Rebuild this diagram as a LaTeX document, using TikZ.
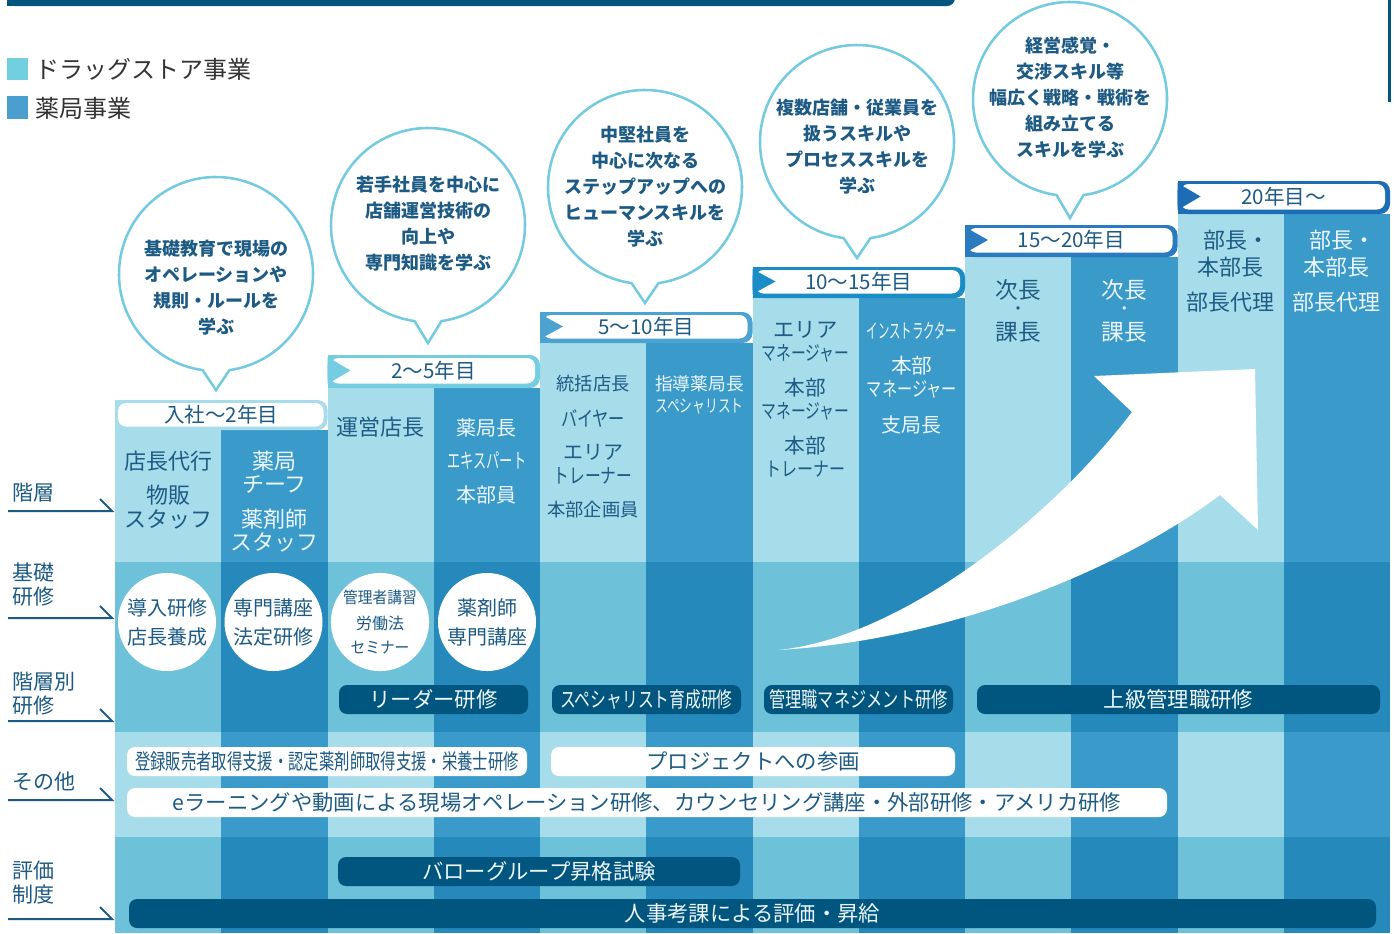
\documentclass[tikz,border=0pt]{standalone}
\usepackage{graphicx}
\usepackage{fontspec}
\newfontfamily\jp{Noto Sans CJK JP}
\definecolor{lTop}{HTML}{A7DCEA}
\definecolor{dTop}{HTML}{3A9BCB}
\definecolor{lMid}{HTML}{6DC2D9}
\definecolor{dMid}{HTML}{2589BB}
\definecolor{barBlue}{HTML}{00567F}
\definecolor{tBlue}{HTML}{1D5B85}
\definecolor{tWhite}{HTML}{EEF7FB}
\definecolor{bubLine}{HTML}{74CBE0}
\definecolor{hdrA}{HTML}{A7DCEA}
\definecolor{hdrB}{HTML}{74CDE0}
\definecolor{hdrC}{HTML}{4CA2D1}
\definecolor{hdrD}{HTML}{1A8CC6}
\definecolor{hdrE}{HTML}{2A7BBF}
\definecolor{hdrF}{HTML}{1C6DB5}
\definecolor{legL}{HTML}{72CFE0}
\definecolor{legD}{HTML}{4A9FCF}
\definecolor{legT}{HTML}{333333}
\newcommand\cnd[2]{\scalebox{#1}[1]{#2}}
\newcommand\hdrbox[6]{%
  \fill[#4, rounded corners=7.5pt] (#1,#2) rectangle (#1+212.5,#3);
  \fill[#4] (#1,#2) rectangle (#1+30,#3);
  \fill[white, rounded corners=6pt] (#1+3,#2+3) rectangle (#1+207.5,#3-4.5);
  \fill[#4] (#1,#2+2) -- (#1+23,{(#2+#3)/2-1}) -- (#1,#3-4) -- cycle;
  \node[hdrt] (#6) at (#1+106.25,{(#2+#3)/2-1}) {#5};
}
\newcommand\bubble[4]{%
  \draw[bubLine, line width=1.9pt, fill=white] (#1,#2) ++(98:97) arc[start angle=98, end angle=442, radius=97] -- (#1,#3) -- cycle;
}
\newcommand\labline[1]{\draw[tBlue, line width=1.5pt] (8,#1) -- (112,#1) -- (100,#1-12);}
\begin{document}
\begin{tikzpicture}[x=0.75pt,y=-0.75pt,
  colt/.style={inner sep=0pt, text=tBlue, font=\jp\fontsize{16.5}{19}\selectfont},
  cold/.style={colt, text=tWhite},
  bub/.style={inner sep=0pt, align=center, text=tBlue, font=\jp\bfseries\fontsize{13.5}{19.5}\selectfont},
  hdrt/.style={inner sep=0pt, text=tBlue, font=\jp\fontsize{15.4}{18}\selectfont},
  lab/.style={inner sep=0pt, anchor=west, align=left, text=tBlue, font=\jp\fontsize{15.75}{18}\selectfont},
  legt/.style={inner sep=0pt, anchor=west, text=legT, font=\jp\fontsize{18}{20}\selectfont},
  dbar/.style={fill=barBlue, rounded corners=6pt, minimum height=21.75pt, inner sep=0pt, text=tWhite, font=\jp\fontsize{16}{18}\selectfont},
  wbar/.style={fill=white, rounded corners=6pt, minimum height=21.75pt, inner sep=0pt, text=tBlue, font=\jp\fontsize{16}{18}\selectfont},
  wcirc/.style={circle, fill=white, minimum size=73.5pt, inner sep=0pt, align=center, text=tBlue, font=\jp\fontsize{15}{21.75}\selectfont}]
\useasboundingbox (0,0) rectangle (1394,933);
\clip (0,0) rectangle (1394,933);
\fill[white] (0,0) rectangle (1394,933);
% banner
\fill[barBlue, rounded corners=6pt] (7,-12) rectangle (955,6);
\fill[barBlue] (7,-12) rectangle (40,6);
\fill[barBlue] (1388,0) rectangle (1390.5,102);
% legend
\fill[legL] (7,58) rectangle (28,80);
\node[legt] (lg1) at (35,69) {ドラッグストア事業};
\fill[legD] (7,96) rectangle (28,119);
\node[legt] (lg2) at (35,108) {薬局事業};
% columns
\foreach \s/\tp in {0/430,1/388,2/343,3/298,4/257,5/214} {
  \pgfmathsetmacro\xa{115+212.5*\s}
  \pgfmathsetmacro\xm{\xa+106.25}
  \pgfmathsetmacro\xb{\xa+212.5}
  \fill[lTop] (\xa,\tp) rectangle (\xm+0.3,562);
  \fill[dTop] (\xm,\tp) rectangle (\xb+0.3,562);
  \fill[lMid] (\xa,562) rectangle (\xm+0.3,732);
  \fill[dMid] (\xm,562) rectangle (\xb+0.3,732);
  \fill[lTop] (\xa,732) rectangle (\xm+0.3,837);
  \fill[dTop] (\xm,732) rectangle (\xb+0.3,837);
  \fill[lMid] (\xa,837) rectangle (\xm+0.3,933);
  \fill[dMid] (\xm,837) rectangle (\xb+0.3,933);
}
% headers
\fill[hdrA, rounded corners=7.5pt] (115,400) rectangle (327.5,430);
\fill[hdrA] (115,400) rectangle (145,430);
\fill[white, rounded corners=6pt] (118,403) rectangle (323.5,426.5);
\node[hdrt] (h1) at (221.25,414.5) {入社～2年目};
\hdrbox{327.5}{355}{388}{hdrB}{2～5年目}{h2}
\hdrbox{540}{312}{343}{hdrC}{5～10年目}{h3}
\hdrbox{752.5}{267}{298}{hdrD}{10～15年目}{h4}
\hdrbox{965}{225}{257}{hdrE}{15～20年目}{h5}
\hdrbox{1177.5}{181}{214}{hdrF}{20年目～}{h6}
% bubbles
\bubble{216}{274}{390}{}
\node[bub] (b1) at (216,288) {基礎教育で現場の\\オペレーションや\\規則・ルールを\\学ぶ};
\bubble{428}{225}{343}{}
\node[bub] (b2) at (428,224) {若手社員を中心に\\店舗運営技術の\\向上や\\専門知識を学ぶ};
\bubble{645}{187}{303}{}
\node[bub] (b3) at (645,187) {中堅社員を\\中心に次なる\\ステップアップへの\\ヒューマンスキルを\\学ぶ};
\bubble{857}{142}{258}{}
\node[bub] (b4) at (857,147) {複数店舗・従業員を\\扱うスキルや\\プロセススキルを\\学ぶ};
\bubble{1070}{99}{218}{}
\node[bub] (b5) at (1070,98) {経営感覚・\\交渉スキル等\\幅広く戦略・戦術を\\組み立てる\\スキルを学ぶ};
% big arrow
\fill[white] (778,650) .. controls (900,638) and (1050,520) .. (1132,412) -- (1094,376) -- (1255,369) -- (1258,530) -- (1220,495) .. controls (1120,570) and (950,640) .. (778,650) -- cycle;
% column texts stage 1
\node[colt] (t01) at (168.1,461) {店長代行};
\node[colt] (t02) at (168.1,495) {物販};
\node[colt] (t03) at (168.1,519) {スタッフ};
\node[cold] (t11) at (274.4,461) {薬局};
\node[cold] (t12) at (274.4,484) {チーフ};
\node[cold] (t13) at (274.4,519) {薬剤師};
\node[cold] (t14) at (274.4,542) {スタッフ};
% stage 2
\node[colt] (t21) at (380.6,427) {運営店長};
\node[cold, font=\jp\fontsize{15}{18}\selectfont] (t31) at (486.9,428) {薬局長};
\node[cold, font=\jp\fontsize{15.5}{18}\selectfont] (t32) at (486.9,461) {\cnd{0.64}{エキスパート}};
\node[cold, font=\jp\fontsize{15}{18}\selectfont] (t33) at (486.9,495) {本部員};
% stage 3
\node[colt, font=\jp\fontsize{13.7}{16}\selectfont] (t41) at (593.1,384) {統括店長};
\node[colt, font=\jp\fontsize{15.5}{16}\selectfont] (t42) at (593.1,418) {\cnd{0.78}{バイヤー}};
\node[colt, font=\jp\fontsize{15}{16}\selectfont] (t43) at (593.1,452) {エリア};
\node[colt, font=\jp\fontsize{15.5}{16}\selectfont] (t44) at (593.1,476) {\cnd{0.76}{トレーナー}};
\node[colt, font=\jp\fontsize{13.7}{16}\selectfont] (t45) at (593.1,510) {本部企画員};
\node[cold, font=\jp\fontsize{13.3}{16}\selectfont] (t51) at (699.4,384) {指導薬局長};
\node[cold, font=\jp\fontsize{13.3}{16}\selectfont] (t52) at (699.4,406) {\cnd{0.72}{スペシャリスト}};
% stage 4
\node[colt, font=\jp\fontsize{16}{16}\selectfont] (t61) at (805.6,330) {エリア};
\node[colt, font=\jp\fontsize{15}{16}\selectfont] (t62) at (805.6,353) {\cnd{0.74}{マネージャー}};
\node[colt, font=\jp\fontsize{15.5}{16}\selectfont] (t63) at (805.6,388) {本部};
\node[colt, font=\jp\fontsize{15}{16}\selectfont] (t64) at (805.6,411) {\cnd{0.74}{マネージャー}};
\node[colt, font=\jp\fontsize{15.5}{16}\selectfont] (t65) at (805.6,446) {本部};
\node[colt, font=\jp\fontsize{15}{16}\selectfont] (t66) at (805.6,469) {\cnd{0.8}{トレーナー}};
\node[cold, font=\jp\fontsize{15}{16}\selectfont] (t71) at (911.9,331) {\cnd{0.57}{インストラクター}};
\node[cold, font=\jp\fontsize{15.5}{16}\selectfont] (t72) at (911.9,366) {本部};
\node[cold, font=\jp\fontsize{15}{16}\selectfont] (t73) at (911.9,389) {\cnd{0.76}{マネージャー}};
\node[cold, font=\jp\fontsize{15}{16}\selectfont] (t74) at (911.9,425) {支局長};
% stage 5
\node[colt, font=\jp\fontsize{17}{18}\selectfont] (t81) at (1018.1,290) {次長};
\node[colt, font=\jp\fontsize{12}{18}\selectfont] (t82) at (1018.1,311) {・};
\node[colt, font=\jp\fontsize{17}{18}\selectfont] (t83) at (1018.1,332) {課長};
\node[cold, font=\jp\fontsize{17}{18}\selectfont] (t91) at (1124.4,290) {次長};
\node[cold, font=\jp\fontsize{12}{18}\selectfont] (t92) at (1124.4,311) {・};
\node[cold, font=\jp\fontsize{17}{18}\selectfont] (t93) at (1124.4,332) {課長};
% stage 6
\node[colt] (tA1) at (1236,240) {部長・};
\node[colt] (tA2) at (1230.6,267) {本部長};
\node[colt] (tA3) at (1230.6,302) {部長代理};
\node[cold] (tB1) at (1342,240) {部長・};
\node[cold] (tB2) at (1336.9,267) {本部長};
\node[cold] (tB3) at (1336.9,302) {部長代理};
% basic training circles
\node[wcirc] (c1) at (167,622) {導入研修\\店長養成};
\node[wcirc] (c2) at (273.5,622) {専門講座\\法定研修};
\node[wcirc, font=\jp\fontsize{12}{18}\selectfont] (c3) at (380,622) {\cnd{0.92}{管理者講習}\\[2pt]労働法\\\cnd{0.92}{セミナー}};
\node[wcirc] (c4) at (487,622) {薬剤師\\専門講座};
% level training bars
\node[dbar, minimum width=141.75pt] (r1) at (433.5,699.5) {リーダー研修};
\node[dbar, minimum width=141.75pt] (r2) at (646.5,699.5) {\cnd{0.74}{スペシャリスト育成研修}};
\node[dbar, minimum width=141.75pt] (r3) at (858.5,699.5) {\cnd{0.76}{管理職マネジメント研修}};
\node[dbar, minimum width=302.25pt] (r4) at (1178.5,699.5) {上級管理職研修};
% other
\node[wbar, minimum width=300pt] (o1) at (327,761.5) {\cnd{0.72}{登録販売者取得支援・認定薬剤師取得支援・栄養士研修}};
\node[wbar, minimum width=303pt] (o2) at (753,761.5) {プロジェクトへの参画};
\node[wbar, minimum width=780pt] (o3) at (647,802.5) {eラーニングや動画による現場オペレーション研修、カウンセリング講座・外部研修・アメリカ研修};
% evaluation
\node[dbar, minimum width=301.5pt] (e1) at (539,871.5) {バローグループ昇格試験};
\node[dbar, minimum width=935.25pt] (e2) at (752.5,913.5) {人事考課による評価・昇給};
% left labels
\node[lab] (l1) at (12,493) {階層};
\labline{511}
\node[lab] (l2) at (12,585) {基礎\\研修};
\labline{618}
\node[lab] (l3) at (12,694) {階層別\\研修};
\labline{721}
\node[lab] (l4) at (12,782) {その他};
\labline{800}
\node[lab] (l5) at (12,883) {評価\\制度};
\labline{919}
\end{tikzpicture}
\end{document}
